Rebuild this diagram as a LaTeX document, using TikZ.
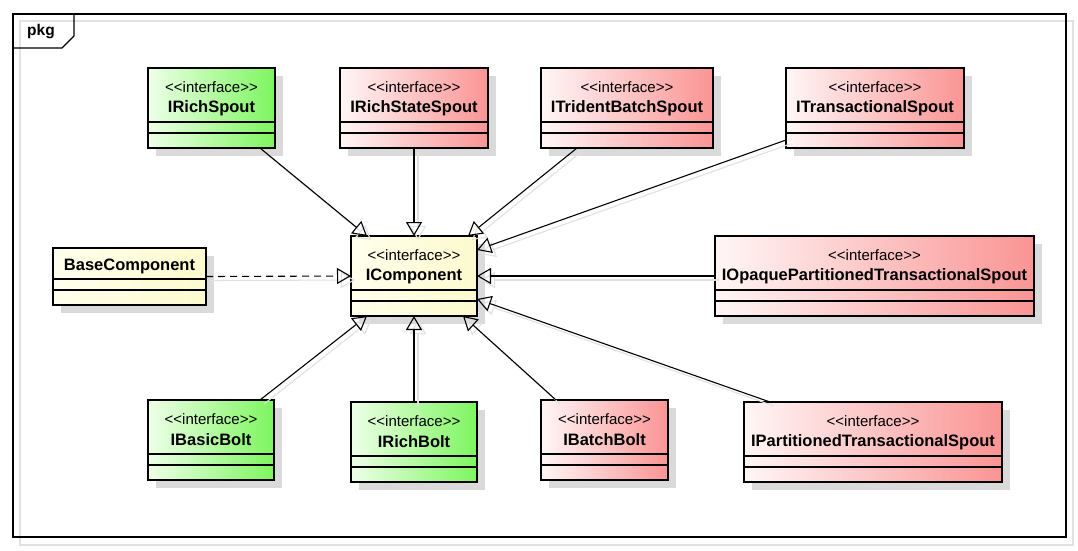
\documentclass[tikz,border=0pt]{standalone}
\usepackage{fontspec}
\setmainfont{Liberation Sans}[Ligatures=TeXOff]
\usetikzlibrary{arrows.meta,calc,fit}

\definecolor{gL}{RGB}{238,255,232}
\definecolor{gR}{RGB}{125,245,95}
\definecolor{rL}{RGB}{255,246,246}
\definecolor{rR}{RGB}{250,148,148}
\definecolor{yL}{RGB}{255,255,236}
\definecolor{yR}{RGB}{252,250,205}
\definecolor{shd}{RGB}{218,218,218}
\definecolor{lshd}{RGB}{225,225,225}

\tikzset{
  umlbox/.style={draw=black, line width=2.6pt, inner sep=0pt, outer sep=0pt},
  boxshadow/.style={fill=shd},
  stereo/.style={font=\fontsize{15}{17}\selectfont, inner sep=0pt},
  cname/.style={font=\fontsize{16.5}{19}\selectfont\bfseries, inner sep=0pt},
  compline/.style={line width=1.2pt},
  gen/.style={line width=1.1pt, -{Triangle[open, length=14pt, width=16pt, line width=1.1pt]}},
  genshadow/.style={gen, draw=lshd, transform canvas={shift={(4pt,-4pt)}}},
  realize/.style={gen, dash pattern=on 7pt off 5pt},
}

% #1 name, #2 x1, #3 y1, #4 x2, #5 y2, #6 left colour, #7 right colour, #8 stereotype, #9 title
\newcommand\umlclass[9]{%
  \fill[boxshadow] ({#2+8},{#3+8}) rectangle ({#4+8},{#5+8});
  \node[umlbox, left color=#6, right color=#7, fit={(#2,#3) (#4,#5)}] (#1) {};
  \draw[compline] ({#2},{#5-26}) -- ({#4},{#5-26});
  \draw[compline] ({#2},{#5-15}) -- ({#4},{#5-15});
  \if\relax\detokenize{#8}\relax
    \node[cname] (#1-title) at ({(#2+#4)/2},{#3+18}) {#9};
  \else
    \node[stereo] (#1-st) at ({(#2+#4)/2},{#3+19}) {#8};
    \node[cname] (#1-title) at ({(#2+#4)/2},{#3+40}) {#9};
  \fi
}
\newcommand\stereoiface{<\kern0pt<interface>\kern0pt>}

\begin{document}
\begin{tikzpicture}[x=1pt, y=-1pt]
\useasboundingbox (0,0) rectangle (1078,550);
\fill[white] (0,0) rectangle (1078,550);

% package frame
\draw[lshd, line width=1.2pt] (20,21) rectangle (1073,545);
\draw[line width=1.4pt] (13,14) rectangle (1066,537);
\draw[line width=1.4pt] (13,48) -- (62,48) -- (74,36) -- (74,14);
\node[font=\fontsize{15.5}{17}\selectfont\bfseries, inner sep=0pt] (pkg) at (41,32) {pkg};

% classes
\umlclass{irichspout}{148}{68}{275}{148}{gL}{gR}{\stereoiface}{IRichSpout}
\umlclass{irichstate}{340}{68}{488}{148}{rL}{rR}{\stereoiface}{IRichStateSpout}
\umlclass{itrident}{541}{68}{713}{148}{rL}{rR}{\stereoiface}{ITridentBatchSpout}
\umlclass{itrans}{786}{68}{964}{148}{rL}{rR}{\stereoiface}{ITransactionalSpout}
\umlclass{base}{53}{248}{206}{305}{yL}{yR}{}{BaseComponent}
\umlclass{icomp}{351}{236}{477}{316}{yL}{yR}{\stereoiface}{IComponent}
\umlclass{iopaque}{715}{236}{1034}{316}{rL}{rR}{\stereoiface}{IOpaquePartitionedTransactionalSpout}
\umlclass{ibasic}{148}{400}{274}{480}{gL}{gR}{\stereoiface}{IBasicBolt}
\umlclass{irichbolt}{351}{402}{477}{482}{gL}{gR}{\stereoiface}{IRichBolt}
\umlclass{ibatch}{541}{400}{668}{480}{rL}{rR}{\stereoiface}{IBatchBolt}
\umlclass{ipart}{744}{402}{1002}{482}{rL}{rR}{\stereoiface}{IPartitionedTransactionalSpout}

% connector shadows
\foreach \s in {genshadow}{
  \draw[\s] ($(irichspout.south west)+(112,0)$) -- ($(icomp.north west)+(16,0)$);
  \draw[\s] (irichstate.south) -- (icomp.north);
  \draw[\s] ($(itrident.south west)+(36,0)$) -- ($(icomp.north east)+(-9,0)$);
  \draw[\s] ($(itrans.south west)+(0,-8)$) -- ($(icomp.north east)+(0,14)$);
  \draw[\s] (iopaque.west) -- (icomp.east);
  \draw[\s] ($(ipart.north west)+(26,0)$) -- ($(icomp.south east)+(0,-17)$);
  \draw[\s] ($(ibatch.north west)+(15,0)$) -- ($(icomp.south east)+(-14,0)$);
  \draw[\s] (irichbolt.north) -- (icomp.south);
  \draw[\s] ($(ibasic.north west)+(112,0)$) -- ($(icomp.south west)+(16,0)$);
  \draw[\s] (base.east) -- (icomp.west);
}

% connectors
\draw[gen] ($(irichspout.south west)+(112,0)$) -- ($(icomp.north west)+(16,0)$);
\draw[gen] (irichstate.south) -- (icomp.north);
\draw[gen] ($(itrident.south west)+(36,0)$) -- ($(icomp.north east)+(-9,0)$);
\draw[gen] ($(itrans.south west)+(0,-8)$) -- ($(icomp.north east)+(0,14)$);
\draw[gen] (iopaque.west) -- (icomp.east);
\draw[gen] ($(ipart.north west)+(26,0)$) -- ($(icomp.south east)+(0,-17)$);
\draw[gen] ($(ibatch.north west)+(15,0)$) -- ($(icomp.south east)+(-14,0)$);
\draw[gen] (irichbolt.north) -- (icomp.south);
\draw[gen] ($(ibasic.north west)+(112,0)$) -- ($(icomp.south west)+(16,0)$);
\draw[realize] (base.east) -- (icomp.west);
\end{tikzpicture}
\end{document}
